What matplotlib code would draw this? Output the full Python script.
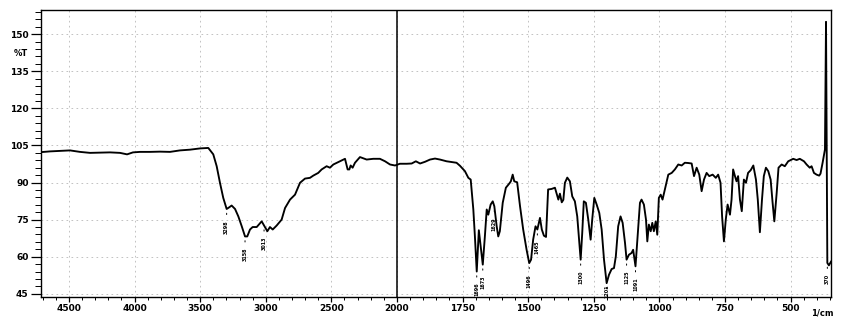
import numpy as np
import matplotlib
matplotlib.use('Agg')
import matplotlib.pyplot as plt
from matplotlib.ticker import FixedLocator

# IR spectrum, wavenumber (1/cm) vs transmittance (%T)
wavenumber = [4713, 4644, 4568, 4492, 4416, 4339, 4263, 4187, 4111, 4057, 4012,
              3958, 3882, 3806, 3730, 3654, 3577, 3501, 3438, 3400, 3374, 3349,
              3324, 3298, 3278, 3260, 3234, 3209, 3183, 3158, 3141, 3120, 3100,
              3069, 3031, 3013, 2988, 2968, 2947, 2917, 2879, 2853, 2815, 2777,
              2739, 2701, 2663, 2638, 2600, 2574, 2536, 2511, 2485, 2434, 2396,
              2376, 2363, 2353, 2338, 2320, 2282, 2231, 2181, 2130, 2091, 2053,
              2015, 1989, 1963, 1944, 1928, 1912, 1893, 1874, 1855, 1836, 1811,
              1785, 1773, 1760, 1741, 1728, 1719, 1709, 1703, 1696, 1688, 1681,
              1673, 1665, 1658, 1652, 1643, 1635, 1629, 1620, 1614, 1608, 1597,
              1585, 1572, 1566, 1559, 1553, 1542, 1531, 1519, 1506, 1496, 1489,
              1481, 1472, 1465, 1455, 1448, 1440, 1432, 1424, 1411, 1398, 1385,
              1379, 1372, 1366, 1360, 1351, 1341, 1332, 1322, 1313, 1307, 1300,
              1294, 1288, 1280, 1271, 1262, 1256, 1248, 1239, 1229, 1220, 1211,
              1201, 1192, 1182, 1173, 1166, 1157, 1148, 1140, 1131, 1125, 1116,
              1106, 1100, 1091, 1083, 1074, 1068, 1059, 1051, 1046, 1040, 1033,
              1027, 1021, 1014, 1008, 1002, 995, 988, 979, 966, 953, 941, 928,
              915, 903, 890, 877, 868, 858, 848, 839, 830, 820, 810, 797, 785,
              776, 767, 761, 754, 747, 740, 731, 725, 719, 712, 706, 700, 693,
              686, 678, 670, 662, 652, 642, 632, 625, 617, 609, 602, 594, 585,
              576, 569, 562, 553, 546, 534, 522, 509, 490, 477, 465, 449, 439,
              427, 420, 411, 401, 391, 386, 378, 369, 365, 360, 354, 346]
transmittance = [102.3, 102.6, 102.8, 103.0, 102.4, 102.0, 102.1, 102.2, 102.0, 101.4, 102.2,
                 102.4, 102.4, 102.5, 102.4, 103.0, 103.3, 103.8, 104.0, 101.4, 96.6, 89.9,
                 83.8, 79.3, 80.0, 80.7, 79.3, 76.3, 72.3, 68.2, 68.2, 71.0, 72.0,
                 72.0, 74.3, 72.6, 70.3, 72.0, 71.0, 72.6, 75.0, 79.7, 83.1, 85.1,
                 89.9, 91.6, 91.9, 92.8, 93.9, 95.3, 96.6, 96.0, 97.3, 98.6, 99.6,
                 95.3, 95.3, 96.9, 96.0, 98.0, 100.3, 99.3, 99.6, 99.6, 98.6, 97.3,
                 96.9, 97.6, 97.6, 97.7, 98.6, 97.7, 98.4, 99.3, 99.7, 99.3, 98.6,
                 98.2, 98.0, 96.8, 94.6, 91.9, 91.2, 79.1, 68.2, 54.0, 70.7, 64.2,
                 56.8, 68.2, 79.1, 77.0, 81.1, 82.4, 80.4, 72.3, 68.2, 70.3, 81.8,
                 87.9, 89.6, 90.5, 93.2, 90.5, 90.1, 80.4, 71.0, 62.8, 57.4, 58.8,
                 66.9, 72.3, 71.0, 75.7, 71.0, 68.5, 68.0, 87.2, 87.4, 87.9, 83.1,
                 85.5, 82.0, 83.0, 89.9, 92.0, 90.5, 84.4, 82.4, 76.3, 68.2, 58.8,
                 69.6, 82.4, 81.8, 75.0, 66.9, 75.0, 83.8, 81.1, 77.7, 71.0, 58.8,
                 49.3, 52.7, 55.0, 55.4, 60.1, 72.3, 76.3, 73.7, 65.6, 58.8, 60.8,
                 61.5, 62.8, 56.1, 68.2, 81.8, 83.1, 81.1, 75.0, 66.2, 73.0, 70.3,
                 73.7, 70.3, 74.3, 68.9, 83.8, 85.1, 83.1, 87.2, 93.2, 93.9, 95.3, 97.3,
                 96.9, 98.0, 97.9, 97.7, 92.6, 96.0, 93.2, 86.5, 91.2, 93.9, 92.6, 93.2, 91.9,
                 93.2, 89.9, 76.3, 66.2, 75.0, 81.1, 77.0, 83.1, 95.3, 92.6, 90.5, 92.6, 83.1,
                 78.4, 91.2, 89.9, 93.9, 95.0, 96.9, 91.2, 83.1, 69.9, 83.1, 92.6, 96.0, 94.6,
                 91.2, 82.4, 74.3, 85.8, 96.0, 97.3, 96.6, 98.6, 99.6, 99.1, 99.6, 98.6, 97.3,
                 96.0, 96.6, 93.9, 93.2, 92.8, 93.6, 98.0, 103.4, 155.0, 57.5, 56.5, 58.0]

# marked peaks (labels are hard to read in the scan, values estimated)
peak_wn = [3298, 3158, 3013, 1696, 1673, 1629, 1496, 1465, 1300, 1201, 1125, 1091, 360]
peak_labels = ['3298', '3158', '3013', '1696', '1673', '1629', '1496', '1465',
               '1300', '1201', '1125', '1091', '370']

x_major = [4500, 4000, 3500, 3000, 2500, 2000, 1750, 1500, 1250, 1000, 750, 500]
y_major = [45, 60, 75, 90, 105, 120, 135, 150]


def fwd(w):
    w = np.asarray(w, dtype=float)
    return np.where(w > 2000, 2000 + (w - 2000) / 2.0, w)


def inv(f):
    f = np.asarray(f, dtype=float)
    return np.where(f > 2000, 2000 + (f - 2000) * 2.0, f)


fig = plt.figure(figsize=(8.47, 3.26), dpi=100)
ax = fig.add_axes([41 / 847, 29.5 / 326, 790 / 847, 287 / 326])
ax.set_xscale('function', functions=(fwd, inv))
ax.set_xlim(4713, 346)
ax.set_ylim(43.9, 160)

ax.plot(wavenumber, transmittance, color='black', lw=1.35, zorder=3)
ax.axvline(2000, color='black', lw=1.1, zorder=2)

x_minor = list(range(4700, 2000, -100)) + list(range(1950, 340, -50))
ax.xaxis.set_major_locator(FixedLocator(x_major))
ax.xaxis.set_minor_locator(FixedLocator(x_minor))
ax.yaxis.set_major_locator(FixedLocator(y_major))
ax.yaxis.set_minor_locator(FixedLocator(np.arange(45, 160, 3)))
ax.set_xticklabels([str(v) for v in x_major])
ax.set_yticklabels([str(v) for v in y_major])

ax.tick_params(axis='y', which='major', length=7, width=0.9, labelsize=6.5, pad=2)
ax.tick_params(axis='y', which='minor', length=4.5, width=0.7)
ax.tick_params(axis='x', which='major', length=3.5, width=0.9, labelsize=6.5, pad=2)
ax.tick_params(axis='x', which='minor', length=2.5, width=0.7)
for lab in ax.get_xticklabels() + ax.get_yticklabels():
    lab.set_fontweight('bold')

ax.grid(True, which='major', color='#b8b8b8', lw=0.6, linestyle=(0, (2, 4)))
for s in ax.spines.values():
    s.set_linewidth(1.0)

for w, lab in zip(peak_wn, peak_labels):
    t = transmittance[wavenumber.index(w)]
    # keep the label inside the frame for the deepest band
    top = max(t - 4.5, 48.6)
    ax.annotate(lab, xy=(w, t - 0.6), xytext=(w, top),
                arrowprops=dict(arrowstyle='-', lw=0.7, color='black'),
                rotation=90, ha='center', va='top', fontsize=3.5, fontweight='bold')

fig.text(21 / 847, 1 - 53 / 326, '%T', ha='center', va='center', fontsize=6, fontweight='bold')
fig.text(822 / 847, 1 - 313 / 326, '1/cm', ha='center', va='center', fontsize=6, fontweight='bold')

fig.savefig('out.png', dpi=100)
